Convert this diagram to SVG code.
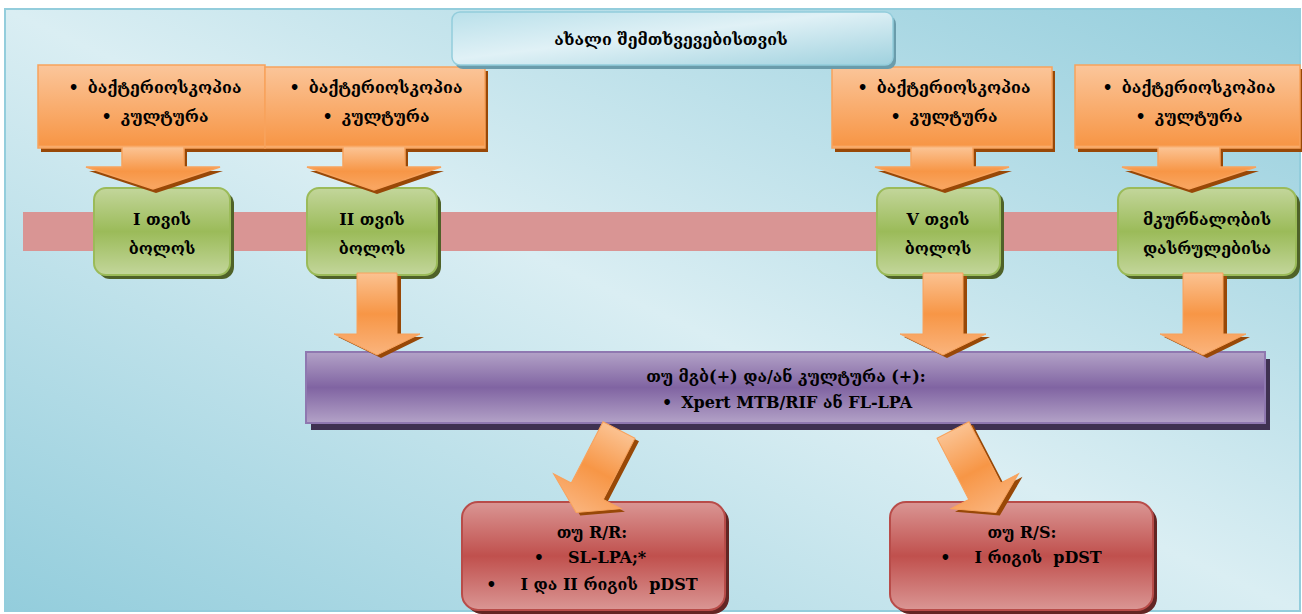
<svg xmlns="http://www.w3.org/2000/svg" width="1302" height="614" viewBox="0 0 1302 614">
<defs>
<linearGradient id="bg" x1="0" y1="1" x2="1" y2="0">
<stop offset="0" stop-color="#93cddc"/>
<stop offset="0.5" stop-color="#daeef3"/>
<stop offset="1" stop-color="#93cddc"/>
</linearGradient>
<linearGradient id="title" x1="0" y1="0" x2="1" y2="1">
<stop offset="0" stop-color="#b9e0ea"/>
<stop offset="0.45" stop-color="#e0f1f6"/>
<stop offset="1" stop-color="#9fd1de"/>
</linearGradient>
<linearGradient id="callout" gradientUnits="userSpaceOnUse" x1="0" y1="65" x2="0" y2="190">
<stop offset="0" stop-color="#fbc69b"/>
<stop offset="0.64" stop-color="#f79646"/>
<stop offset="0.665" stop-color="#fbc291"/>
<stop offset="0.85" stop-color="#f79646"/>
<stop offset="1" stop-color="#f9a865"/>
</linearGradient>
<linearGradient id="arrow" x1="0" y1="0" x2="0" y2="1">
<stop offset="0" stop-color="#fbc291"/>
<stop offset="0.5" stop-color="#f79646"/>
<stop offset="1" stop-color="#fab47d"/>
</linearGradient>
<linearGradient id="green" x1="0" y1="0" x2="0" y2="1">
<stop offset="0" stop-color="#c3d69b"/>
<stop offset="0.5" stop-color="#9bbb59"/>
<stop offset="1" stop-color="#c3d69b"/>
</linearGradient>
<linearGradient id="purple" x1="0" y1="0" x2="0" y2="1">
<stop offset="0" stop-color="#b3a2c7"/>
<stop offset="0.5" stop-color="#8064a2"/>
<stop offset="1" stop-color="#b3a2c7"/>
</linearGradient>
<linearGradient id="red" x1="0" y1="0" x2="0" y2="1">
<stop offset="0" stop-color="#da9694"/>
<stop offset="0.5" stop-color="#c0504d"/>
<stop offset="1" stop-color="#da9694"/>
</linearGradient>
<path id="arrD" d="M-20,0 H20 V61 H43 L0,82 L-43,61 H-20 Z"/>
<path id="arrG" d="M-18,0 H18 V69 H38 L0,93 L-38,69 H-18 Z"/>
</defs>
<style>
text{font-family:"DejaVu Serif","DejaVu Sans",serif;font-size:16px;font-weight:bold;fill:#000;text-anchor:middle}
.pre{white-space:pre}
.shO{fill:#984807}
.shG{fill:#4f6228}
.shP{fill:#3f3151}
.shR{fill:#632523}
.shT{fill:#6a9cab}
.co{fill:url(#callout);stroke:#f8a25c;stroke-width:1.5}
.ar{fill:url(#arrow);stroke:#f8a25c;stroke-width:1}
.gr{fill:url(#green);stroke:#9bbb59;stroke-width:2}
.pu{fill:url(#purple);stroke:#8f78b0;stroke-width:2}
.re{fill:url(#red);stroke:#b84c49;stroke-width:2}
</style>

<rect x="5" y="9" width="1295" height="602" fill="url(#bg)" stroke="#93cddc" stroke-width="2"/>
<rect x="23" y="212" width="1260" height="39" fill="#d99594"/>

<g id="node-purple">
<rect class="shP" x="311" y="359" width="959" height="71"/>
<rect class="pu" x="306" y="352" width="959" height="71"/>
<text x="786" y="382">თუ მგბ(+) და/ან კულტურა (+):</text>
<text x="787" y="408">•<tspan dx="9">Xpert MTB/RIF ან FL-LPA</tspan></text>
</g>

<g id="node-rr">
<rect class="shR" x="466" y="506" width="263" height="108" rx="16"/>
<rect class="re" x="462" y="502" width="263" height="108" rx="16"/>
<text x="592" y="538">თუ R/R:</text>
<text x="590" y="563">•<tspan dx="24">SL-LPA;*</tspan></text>
<text class="pre" x="592" y="590">•<tspan dx="24">I და II რიგის  pDST</tspan></text>
</g>

<g id="node-rs">
<rect class="shR" x="894" y="506" width="263" height="108" rx="16"/>
<rect class="re" x="890" y="502" width="263" height="108" rx="16"/>
<text x="1022" y="538">თუ R/S:</text>
<text class="pre" x="1021" y="563">•<tspan dx="24">I რიგის  pDST</tspan></text>
</g>

<g id="node-m1">
<rect class="shG" x="98" y="192" width="136" height="87" rx="12"/>
<rect class="gr" x="94" y="188" width="136" height="87" rx="12"/>
<text x="162" y="225">I თვის</text>
<text x="162" y="254">ბოლოს</text>
</g>
<g id="node-m2">
<rect class="shG" x="311" y="192" width="130" height="87" rx="12"/>
<rect class="gr" x="307" y="188" width="130" height="87" rx="12"/>
<text x="372" y="225">II თვის</text>
<text x="372" y="254">ბოლოს</text>
</g>
<g id="node-m5">
<rect class="shG" x="881" y="192" width="123" height="87" rx="12"/>
<rect class="gr" x="877" y="188" width="123" height="87" rx="12"/>
<text x="938" y="225">V თვის</text>
<text x="938" y="254">ბოლოს</text>
</g>
<g id="node-end">
<rect class="shG" x="1122" y="192" width="178" height="87" rx="12"/>
<rect class="gr" x="1118" y="188" width="178" height="87" rx="12"/>
<text x="1207" y="225">მკურნალობის</text>
<text x="1207" y="254">დასრულებისა</text>
</g>

<g id="node-c1">
<path class="shO" transform="translate(3,4)" d="M38,65 H265 V148 H184 V167 H220 L153,189 L86,167 H122 V148 H38 Z"/>
<path class="co" d="M38,65 H265 V148 H184 V167 H220 L153,189 L86,167 H122 V148 H38 Z"/>
<text x="155" y="93">•<tspan dx="9">ბაქტერიოსკოპია</tspan></text>
<text x="155" y="122">•<tspan dx="9">კულტურა</tspan></text>
</g>
<g id="node-c2">
<path class="shO" transform="translate(3,4)" d="M265,67 H485 V148 H405 V167 H441 L374,190 L307,167 H343 V148 H265 Z"/>
<path class="co" d="M265,67 H485 V148 H405 V167 H441 L374,190 L307,167 H343 V148 H265 Z"/>
<text x="376" y="93">•<tspan dx="9">ბაქტერიოსკოპია</tspan></text>
<text x="376" y="122">•<tspan dx="9">კულტურა</tspan></text>
</g>
<g id="node-c3">
<path class="shO" transform="translate(3,4)" d="M832,67 H1052 V148 H973 V167 H1009 L942,189 L875,167 H911 V148 H832 Z"/>
<path class="co" d="M832,67 H1052 V148 H973 V167 H1009 L942,189 L875,167 H911 V148 H832 Z"/>
<text x="944" y="93">•<tspan dx="9">ბაქტერიოსკოპია</tspan></text>
<text x="944" y="122">•<tspan dx="9">კულტურა</tspan></text>
</g>
<g id="node-c4">
<path class="shO" transform="translate(3,4)" d="M1075,65 H1300 V148 H1220 V167 H1256 L1189,189 L1122,167 H1158 V148 H1075 Z"/>
<path class="co" d="M1075,65 H1300 V148 H1220 V167 H1256 L1189,189 L1122,167 H1158 V148 H1075 Z"/>
<text x="1189" y="93">•<tspan dx="9">ბაქტერიოსკოპია</tspan></text>
<text x="1189" y="122">•<tspan dx="9">კულტურა</tspan></text>
</g>

<g id="node-title">
<rect class="shT" x="455" y="16" width="441" height="53" rx="8"/>
<rect x="452" y="12" width="441" height="53" rx="8" fill="url(#title)" stroke="#93cddc" stroke-width="1.5"/>
<text x="671" y="45">ახალი შემთხვევებისთვის</text>
</g>

<g id="connectors">
<use href="#arrD" class="shO" transform="translate(381,276)"/>
<use href="#arrD" class="ar" transform="translate(377,273)"/>
<use href="#arrD" class="shO" transform="translate(947,276)"/>
<use href="#arrD" class="ar" transform="translate(943,273)"/>
<use href="#arrD" class="shO" transform="translate(1207,276)"/>
<use href="#arrD" class="ar" transform="translate(1203,273)"/>
<use href="#arrG" class="shO" transform="translate(623,433) rotate(27.4)"/>
<use href="#arrG" class="ar" transform="translate(619,430) rotate(27.4)"/>
<use href="#arrG" class="shO" transform="translate(957,433) rotate(-27.4)"/>
<use href="#arrG" class="ar" transform="translate(953,430) rotate(-27.4)"/>
</g>
</svg>
